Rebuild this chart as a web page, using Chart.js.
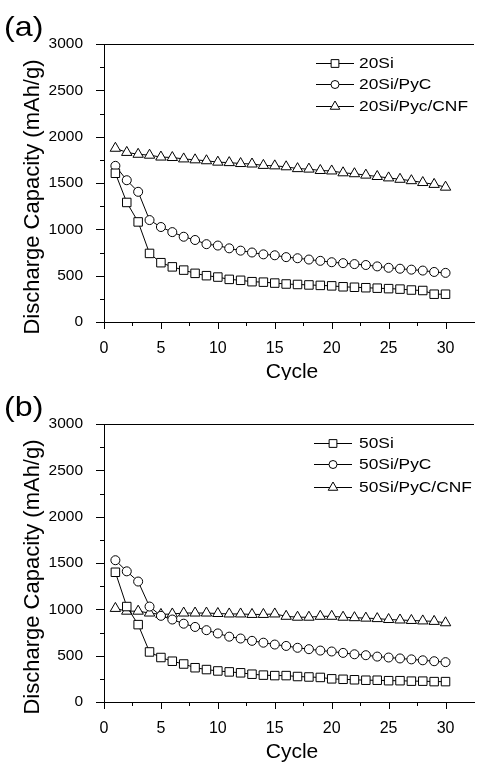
<!DOCTYPE html>
<html>
<head>
<meta charset="utf-8">
<script src="https://cdn.jsdelivr.net/npm/chart.js@4.4.1/dist/chart.umd.min.js"></script>
<style>
  body { margin: 0; background: #fff; }
  .panel { position: absolute; left: 0; width: 481px; }
</style>
</head>
<body>
<div class="panel" style="top:0;height:380px"><canvas id="chartA"></canvas></div>
<div class="panel" style="top:380px;height:385px"><canvas id="chartB"></canvas></div>
<script>
// cycle numbers (x)
const cycles = [1, 2, 3, 4, 5, 6, 7, 8, 9, 10, 11, 12, 13, 14, 15,
                16, 17, 18, 19, 20, 21, 22, 23, 24, 25, 26, 27, 28, 29, 30];

// (a) 20 wt% Si
const si20 = [1605, 1290, 1080, 740, 640, 595, 560, 525, 500, 485, 460, 450, 435, 430, 420,
              410, 405, 400, 395, 390, 380, 375, 370, 365, 360, 355, 345, 340, 300, 300];
const si20Pyc = [1685, 1530, 1405, 1100, 1025, 970, 920, 885, 840, 825, 795, 770, 750, 730, 720,
                 700, 688, 674, 660, 645, 635, 625, 615, 600, 585, 575, 565, 555, 540, 530];
const si20PycCnf = [1875, 1830, 1810, 1800, 1780, 1775, 1760, 1750, 1740, 1725, 1720, 1710, 1705, 1690, 1685,
                    1675, 1655, 1650, 1635, 1630, 1610, 1600, 1585, 1570, 1555, 1540, 1525, 1505, 1485, 1455];

// (b) 50 wt% Si
const si50 = [1400, 1030, 835, 540, 480, 440, 410, 370, 350, 335, 325, 315, 300, 290, 285,
              285, 275, 270, 265, 250, 245, 240, 235, 235, 230, 230, 225, 225, 220, 220];
const si50Pyc = [1530, 1410, 1300, 1030, 930, 890, 845, 810, 775, 740, 705, 685, 660, 640, 620,
                 605, 585, 570, 555, 545, 530, 515, 505, 490, 480, 470, 460, 450, 440, 430];
const si50PycCnf = [1010, 980, 980, 960, 945, 950, 960, 960, 960, 955, 950, 950, 945, 945, 950,
                    925, 915, 915, 925, 925, 915, 910, 905, 900, 890, 885, 880, 875, 870, 855];

// ticks
const yLabelTicks = [0, 500, 1000, 1500, 2000, 2500, 3000];
const yAllTicks = [0, 250, 500, 750, 1000, 1250, 1500, 1750, 2000, 2250, 2500, 2750, 3000];
const xLabelTicks = [0, 5, 10, 15, 20, 25, 30];
const xAllTicks = [0, 2.5, 5, 7.5, 10, 12.5, 15, 17.5, 20, 22.5, 25, 27.5, 30];

const FONT = "'Liberation Sans', Arial, sans-serif";
const PLOT_BOTTOM = 322;

// markers for the legend
function marker(ctx, style, r, x, y) {
    ctx.fillStyle = '#fff';
    ctx.strokeStyle = '#000';
    ctx.lineWidth = 1;
    if (Chart.helpers && Chart.helpers.drawPoint) {
        Chart.helpers.drawPoint(ctx, { pointStyle: style, radius: r, borderWidth: 1, rotation: 0 }, x, y);
        return;
    }
    ctx.beginPath();
    ctx.arc(x, y, r, 0, Math.PI * 2);
    ctx.fill();
    ctx.stroke();
}

// text a bit wider than the font (the original figure is stretched sideways)
function wideText(ctx, text, x, y, sx) {
    ctx.save();
    ctx.translate(x, y);
    ctx.scale(sx, 1);
    ctx.fillText(text, 0, 0);
    ctx.restore();
}

// extra bits: top frame, tick marks, legend, titles, panel letter
const panelDecor = {
    id: 'panelDecor',
    afterDraw(chart, args, opts) {
        const ctx = chart.ctx;
        const a = chart.chartArea;
        const xs = chart.scales.x;
        const ys = chart.scales.y;

        ctx.save();
        ctx.strokeStyle = '#000';
        ctx.lineWidth = 1;

        // frame top
        ctx.beginPath();
        ctx.moveTo(a.left, Math.round(a.top) + 0.5);
        ctx.lineTo(a.right, Math.round(a.top) + 0.5);

        // tick marks (outside)
        yAllTicks.forEach(v => {
            const y = Math.round(ys.getPixelForValue(v)) + 0.5;
            const len = v % 500 === 0 ? 8 : 4;
            ctx.moveTo(a.left - len, y);
            ctx.lineTo(a.left, y);
        });
        xAllTicks.forEach(v => {
            const x = Math.round(xs.getPixelForValue(v)) + 0.5;
            const len = v % 5 === 0 ? 7 : 4;
            ctx.moveTo(x, a.bottom);
            ctx.lineTo(x, a.bottom + len);
        });
        ctx.stroke();

        // legend
        ctx.font = '15.5px ' + FONT;
        ctx.textBaseline = 'middle';
        ctx.textAlign = 'left';
        chart.data.datasets.forEach((ds, i) => {
            const y = opts.legendRows[i];
            ctx.strokeStyle = '#000';
            ctx.beginPath();
            ctx.moveTo(opts.legendX0, y + 0.5);
            ctx.lineTo(opts.legendX0 + 38, y + 0.5);
            ctx.stroke();
            marker(ctx, ds.pointStyle, ds.pointRadius - 0.5, opts.legendX0 + 19, y + 0.5);
            ctx.fillStyle = '#000';
            wideText(ctx, ds.label, 359, y + 1, 1.12);
        });

        // axis titles
        ctx.fillStyle = '#000';
        ctx.textAlign = 'center';
        ctx.font = '21px ' + FONT;
        ctx.fillText('Cycle', 292, 372);

        ctx.save();
        ctx.translate(33, 197);
        ctx.rotate(-Math.PI / 2);
        ctx.font = '22px ' + FONT;
        ctx.fillText('Discharge Capacity (mAh/g)', 0, 0);
        ctx.restore();

        // panel letter
        ctx.textAlign = 'left';
        ctx.font = '28px ' + FONT;
        wideText(ctx, opts.letter, 4, 28, 1.15);

        ctx.restore();
    }
};

function makeSeries(label, values, style, radius) {
    return {
        label: label,
        data: cycles.map((c, i) => ({ x: c, y: values[i] })),
        borderColor: '#000',
        borderWidth: 1,
        pointStyle: style,
        pointRadius: radius,
        pointBorderWidth: 1,
        pointBackgroundColor: '#fff',
        pointBorderColor: '#000',
        tension: 0,
        fill: false
    };
}

function makeChart(canvasId, names, series, letter, legendRows, legendX0) {
    const canvas = document.getElementById(canvasId);
    return new Chart(canvas.getContext('2d'), {
        type: 'line',
        data: {
            datasets: [
                makeSeries(names[0], series[0], 'rect', 6),
                makeSeries(names[1], series[1], 'circle', 4.5),
                makeSeries(names[2], series[2], 'triangle', 6)
            ]
        },
        options: {
            responsive: true,
            maintainAspectRatio: false,
            devicePixelRatio: 1,
            animation: false,
            layout: { padding: { top: 44, left: 0, right: 0, bottom: 0 } },
            plugins: {
                legend: { display: false },
                tooltip: { enabled: false },
                panelDecor: { letter: letter, legendRows: legendRows, legendX0: legendX0 }
            },
            scales: {
                x: {
                    type: 'linear',
                    min: 0,
                    max: 32.5,
                    grid: { display: false },
                    border: { display: true, color: '#000', width: 1 },
                    afterBuildTicks: s => { s.ticks = xLabelTicks.map(v => ({ value: v })); },
                    afterFit: s => { s.height = s.chart.height - PLOT_BOTTOM; },
                    ticks: {
                        autoSkip: false,
                        maxRotation: 0,
                        padding: 9,
                        color: '#000',
                        font: { family: FONT, size: 16 },
                        callback: v => String(v)
                    }
                },
                y: {
                    min: 0,
                    max: 3000,
                    grid: { display: false },
                    border: { display: true, color: '#000', width: 1 },
                    afterBuildTicks: s => { s.ticks = yLabelTicks.map(v => ({ value: v })); },
                    afterFit: s => { s.width = 104; },
                    ticks: {
                        autoSkip: false,
                        padding: 13,
                        color: '#000',
                        font: { family: FONT, size: 15.5 },
                        callback: v => String(v)
                    }
                }
            }
        },
        plugins: [panelDecor]
    });
}

makeChart('chartA', ['20Si', '20Si/PyC', '20Si/Pyc/CNF'],
          [si20, si20Pyc, si20PycCnf], '(a)', [63, 84, 106], 316);
makeChart('chartB', ['50Si', '50Si/PyC', '50Si/PyC/CNF'],
          [si50, si50Pyc, si50PycCnf], '(b)', [63, 84, 107], 314);
</script>
</body>
</html>
